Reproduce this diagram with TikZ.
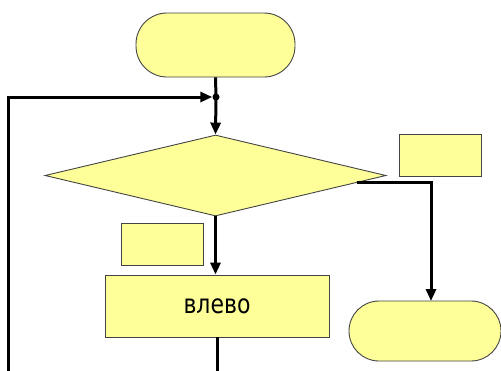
\documentclass[tikz,border=0pt]{standalone}
\usepackage{fontspec}
\setmainfont{DejaVu Sans}
\usetikzlibrary{shapes.geometric,arrows.meta,calc}
\definecolor{blockfill}{HTML}{FFFF99}
\definecolor{blockline}{HTML}{444444}
\tikzset{
  block/.style={draw=blockline, line width=0.9pt, fill=blockfill, inner sep=0pt},
  termbox/.style={block, rectangle, rounded corners=#1},
  procbox/.style={block, rectangle},
  decision/.style={block, diamond, aspect=4.2},
  flow/.style={line width=3pt, -{Triangle[length=12pt,width=10pt]}},
  plainflow/.style={line width=3pt},
}
\begin{document}
\begin{tikzpicture}[x=1pt, y=-1pt]
  \useasboundingbox (0,0) rectangle (501,370);

  % start terminator
  \node[termbox=31pt, minimum width=159pt, minimum height=64pt] (start) at (215.5,45) {};
  % junction point where the loop returns
  \node[circle, fill=black, inner sep=0pt, minimum size=7pt] (join) at (216,97) {};
  % condition
  \node[decision, minimum width=341pt, minimum height=81pt] (cond) at (215.5,175.5) {};
  % label boxes next to the branches
  \node[procbox, minimum width=82pt, minimum height=42pt] (lblyes) at (440,155) {};
  \node[procbox, minimum width=82pt, minimum height=42pt] (lblno) at (162,244) {};
  % action
  \node[procbox, minimum width=224pt, minimum height=62pt] (act) at (217,306)
    {\raisebox{-1pt}{\scalebox{1}[1.2]{\fontsize{22}{26}\selectfont влево}}};
  % end terminator
  \node[termbox=30pt, minimum width=152pt, minimum height=60pt] (stop) at (425,331) {};

  % connectors
  \coordinate (exitR) at ($(cond.east)!0.175!(cond.south)$);
  \coordinate (stopin) at (431,301);
  \coordinate (loopfoot) at (8,371);
  \coordinate (actfoot) at (217,371);

  \draw[plainflow] (start.south) -- (join.center);
  \draw[flow] (join.center) -- (cond.north);
  \draw[flow] (loopfoot) |- (join.west);
  \draw[flow] (cond.south) -- (cond.south |- act.north);
  \draw[flow] (exitR) -| (stopin);
  \draw[plainflow] (act.south) -- (actfoot);
\end{tikzpicture}
\end{document}
